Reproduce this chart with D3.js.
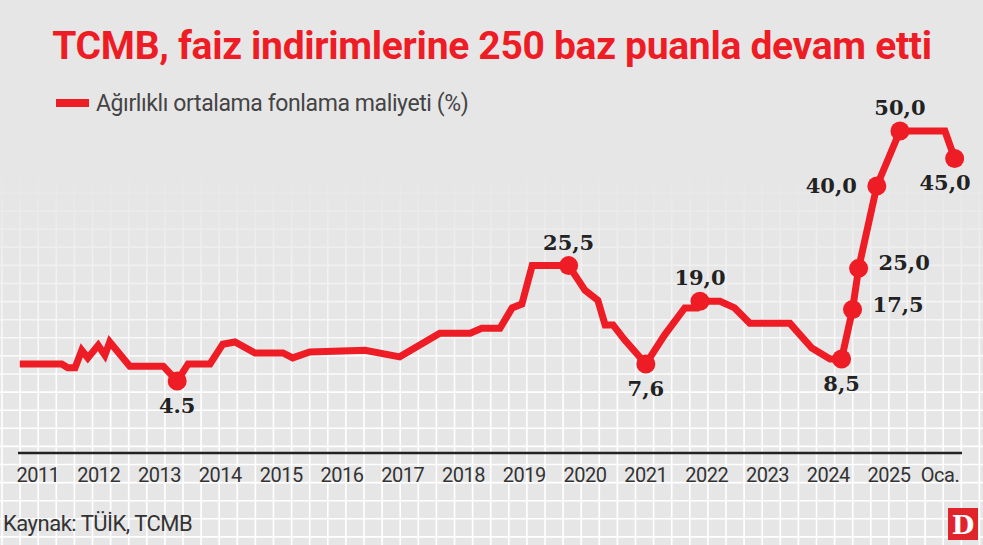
<!DOCTYPE html>
<html><head><meta charset="utf-8">
<script src="https://cdn.jsdelivr.net/npm/d3@7"></script>
<style>body{margin:0;background:#fff}svg{display:block}</style>
</head><body><div id="chart"></div>
<script>
// fractional year and rate (%)
var times = [2010.70,2011.39,2011.49,2011.61,2011.72,2011.82,2011.99,2012.10,2012.18,2012.51,2013.06,2013.29,2013.47,2013.83,2014.04,2014.24,2014.57,2015.03,2015.19,2015.47,2016.38,2016.95,2017.61,2018.11,2018.30,2018.60,2018.80,2018.96,2019.13,2019.73,2020.00,2020.21,2020.33,2020.46,2020.65,2021.00,2021.31,2021.64,2021.84,2021.89,2022.22,2022.46,2022.71,2023.37,2023.73,2024.03,2024.22,2024.40,2024.50,2024.80,2025.18,2025.92,2026.08];
var rates = [7.6,7.6,6.9,6.9,10.1,8.7,11.0,9.2,11.6,7.2,7.2,4.5,7.6,7.6,11.2,11.6,9.6,9.6,8.7,9.8,10.1,8.9,13.2,13.2,14.1,14.1,17.8,18.5,25.5,25.5,21.0,19.2,14.7,14.7,12.0,7.6,12.9,17.8,17.8,19.0,19.0,17.8,15.0,15.0,10.5,8.5,8.5,17.5,25.0,40.0,50.0,50.0,45.0];
var years = [2011,2012,2013,2014,2015,2016,2017,2018,2019,2020,2021,2022,2023,2024,2025];
// labelled points: index into series, text, placement
var markIdx = [11,29,35,39,46,47,48,49,50,52];
var markText = ["4.5","25,5","7,6","19,0","8,5","17,5","25,0","40,0","50,0","45,0"];
var markPos = ["below","above","below","above","below","right","right","left","above","belowEnd"];

var W = 983, H = 545;
var svg = d3.select("#chart").append("svg").attr("width", W).attr("height", H);
var x = d3.scaleLinear().domain([2011, 2025]).range([38, 889]);
var y = d3.scaleLinear().domain([4.5, 50]).range([381, 131]);

svg.append("rect").attr("width", W).attr("height", H).attr("fill", "#e6e6e7");
var grad = svg.append("defs").append("linearGradient").attr("id", "fade").attr("x1", 0).attr("x2", 0).attr("y1", 0).attr("y2", 1);
grad.append("stop").attr("offset", "0.3").attr("stop-color", "#fff").attr("stop-opacity", 0);
grad.append("stop").attr("offset", "0.75").attr("stop-color", "#fff").attr("stop-opacity", 1);
var mask = svg.select("defs").append("mask").attr("id", "gm");
mask.append("rect").attr("width", W).attr("height", H).attr("fill", "url(#fade)");
var grid = svg.append("g").attr("mask", "url(#gm)").attr("stroke", "#fff").attr("stroke-width", 1.6);
grid.selectAll(".v").data(d3.range(0, 56)).enter().append("line")
  .attr("x1", d => 2 + d * 18.1).attr("x2", d => 2 + d * 18.1).attr("y1", 0).attr("y2", H);
grid.selectAll(".h").data(d3.range(0, 31)).enter().append("line")
  .attr("y1", d => 12 + d * 18.1).attr("y2", d => 12 + d * 18.1).attr("x1", 0).attr("x2", W);

svg.append("text").attr("x", 492).attr("y", 59).attr("text-anchor", "middle")
  .attr("font-family", "Roboto").attr("font-weight", 700).attr("font-size", 39)
  .attr("letter-spacing", -0.3).attr("fill", "#ee1c25")
  .text("TCMB, faiz indirimlerine 250 baz puanla devam etti");

svg.append("rect").attr("x", 56).attr("y", 99).attr("width", 33).attr("height", 8).attr("fill", "#ee1c25");
svg.append("text").attr("x", 96).attr("y", 111).attr("font-family", "Roboto").attr("font-size", 23)
  .attr("letter-spacing", -0.4).attr("fill", "#444").text("Ağırlıklı ortalama fonlama maliyeti (%)");

// axis
svg.append("line").attr("x1", 18).attr("x2", 962).attr("y1", 453).attr("y2", 453).attr("stroke", "#222").attr("stroke-width", 2.5);
svg.selectAll(".yr").data(years).enter().append("text")
  .attr("x", d => x(d)).attr("y", 482).attr("text-anchor", "middle")
  .attr("font-family", "Roboto").attr("font-size", 20).attr("letter-spacing", -0.5).attr("fill", "#333").text(d => d);
svg.append("text").attr("x", 940).attr("y", 482).attr("text-anchor", "middle")
  .attr("font-family", "Roboto").attr("font-size", 20).attr("letter-spacing", -0.5).attr("fill", "#333").text("Oca.");

var pts = times.map((t, i) => [t, rates[i]]);
svg.append("path").datum(pts).attr("fill", "none").attr("stroke", "#ee1c25").attr("stroke-width", 7)
  .attr("stroke-linejoin", "miter").attr("d", d3.line().x(d => x(d[0])).y(d => y(d[1])));

var off = {below: [0, 32, "middle"], belowEnd: [16, 32, "end"], above: [0, -16, "middle"], right: [20, 2, "start"], left: [-20, 7, "end"]};
markIdx.forEach((k, i) => {
  var cx = x(times[k]), cy = y(rates[k]), o = off[markPos[i]];
  svg.append("circle").attr("cx", cx).attr("cy", cy).attr("r", 9.5).attr("fill", "#ee1c25");
  svg.append("text").attr("x", cx + o[0]).attr("y", cy + o[1]).attr("text-anchor", o[2])
    .attr("font-family", "DejaVu Serif").attr("font-weight", 700).attr("font-size", 21)
    .attr("fill", "#222").text(markText[i]);
});

svg.append("text").attr("x", 3).attr("y", 531).attr("font-family", "Roboto").attr("font-size", 22)
  .attr("letter-spacing", -0.5).attr("fill", "#333").text("Kaynak: TÜİK, TCMB");
svg.append("rect").attr("x", 948).attr("y", 508).attr("width", 30).attr("height", 32).attr("fill", "#e0242b");
svg.append("text").attr("x", 963).attr("y", 534).attr("text-anchor", "middle").attr("font-family", "DejaVu Serif")
  .attr("font-weight", 700).attr("font-size", 26).attr("fill", "#fff").text("D");
</script></body></html>
